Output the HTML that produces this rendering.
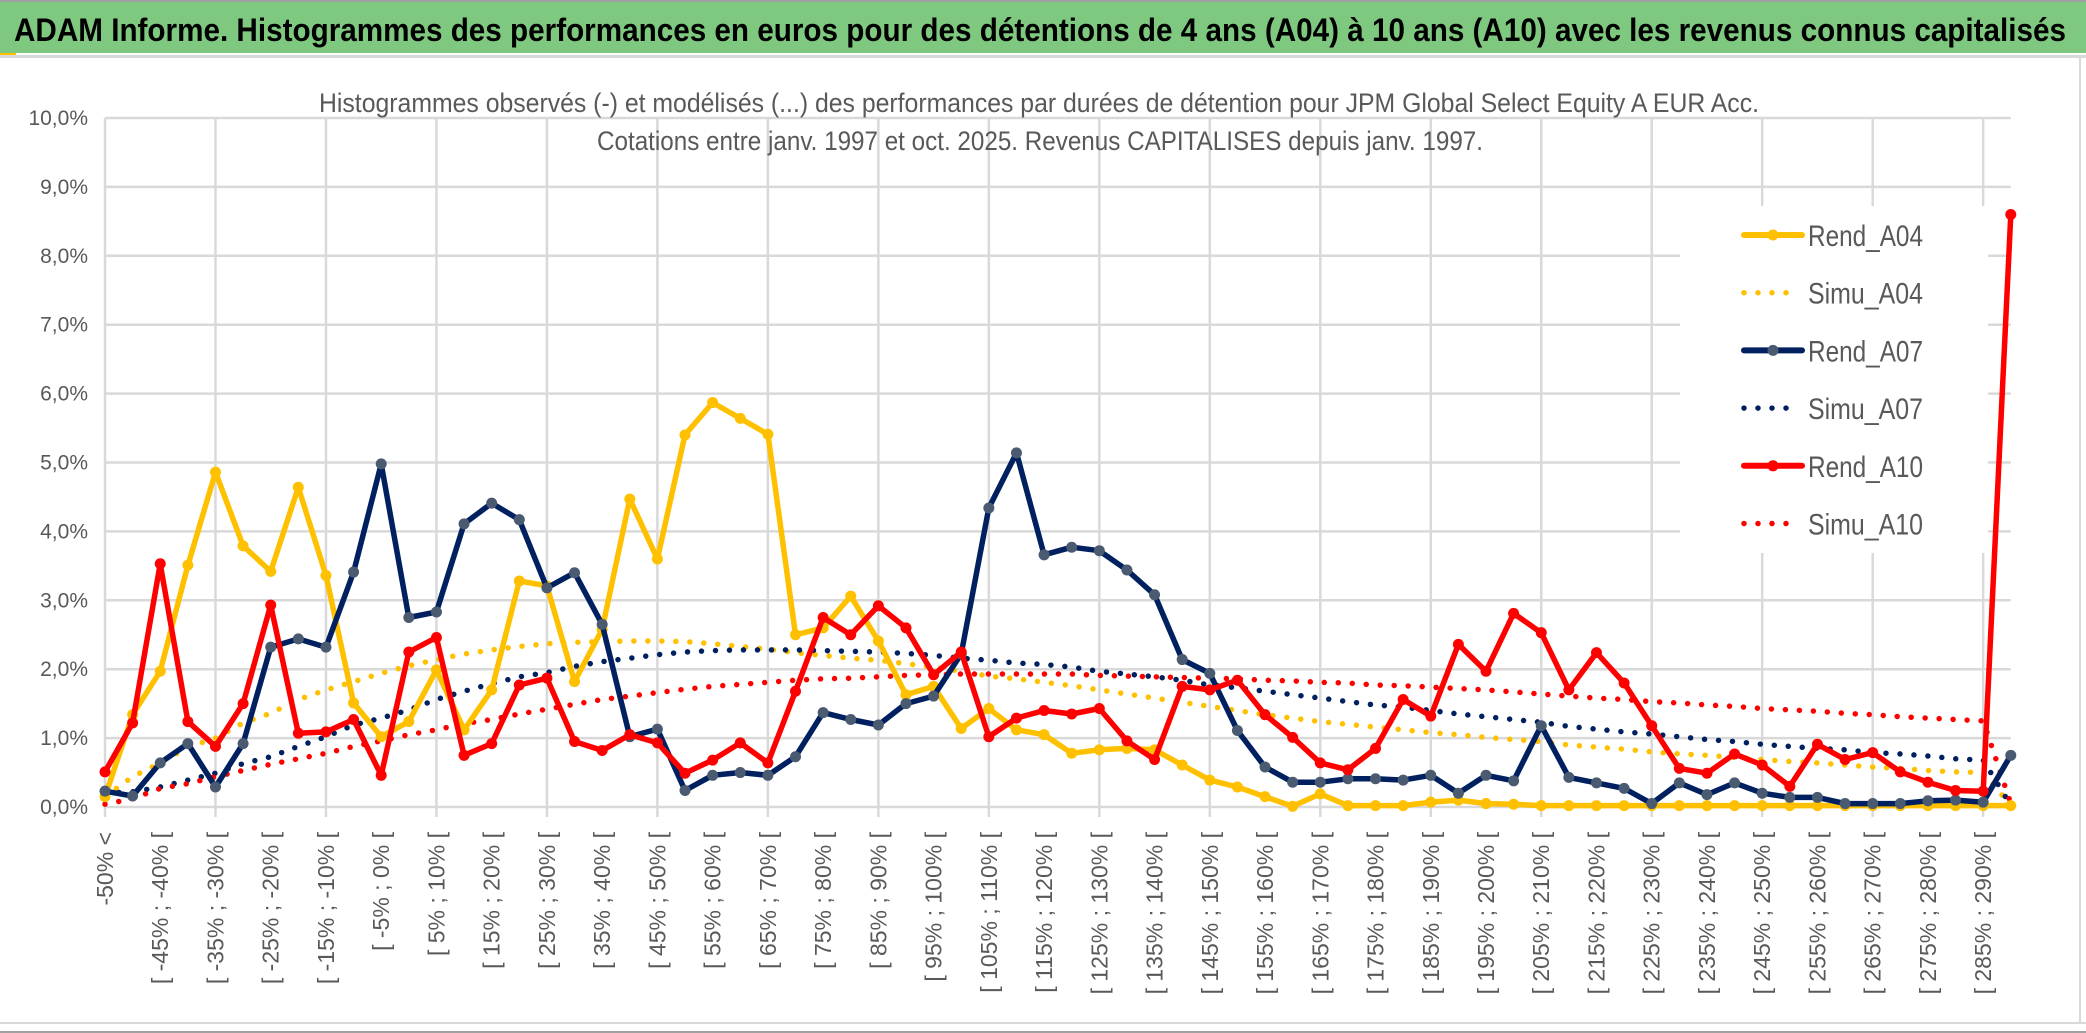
<!DOCTYPE html>
<html><head><meta charset="utf-8">
<style>
html,body{margin:0;padding:0;background:#fff;}
svg{display:block;}
</style></head>
<body>
<svg id="chart" width="2086" height="1033" xmlns="http://www.w3.org/2000/svg" font-family="'Liberation Sans', sans-serif">
  <rect x="0" y="0" width="2086" height="1033" fill="#ffffff"/>
  <rect x="0" y="0" width="2086" height="2" fill="#a0a0a0"/>
  <rect x="0" y="2" width="2086" height="51" fill="#7ec97f"/>
  <rect x="0" y="53" width="16" height="3" fill="#ffc000"/>
  <rect x="0" y="55" width="2086" height="3" fill="#d9d9d9"/>
  <rect x="2079" y="56" width="2" height="968" fill="#d9d9d9"/>
  <rect x="0" y="1022" width="2086" height="2" fill="#d9d9d9"/>
  <rect x="0" y="1031" width="2086" height="2" fill="#a0a0a0"/>
  <text x="14" y="41" font-size="32" font-weight="bold" fill="#000" textLength="2052" lengthAdjust="spacingAndGlyphs">ADAM Informe. Histogrammes des performances en euros pour des détentions de 4 ans (A04) à 10 ans (A10) avec les revenus connus capitalisés</text>
  <g id="grid"></g>
  <g id="yaxis"></g>
  <g id="xaxis"></g>
  <rect x="1680" y="206" width="308" height="347" fill="#ffffff"/>
  <g id="series"></g>
  <text x="1039" y="112" font-size="27" fill="#595959" text-anchor="middle" textLength="1440" lengthAdjust="spacingAndGlyphs">Histogrammes observés (-) et modélisés (...) des performances par durées de détention pour JPM Global Select Equity A EUR Acc.</text>
  <text x="1040" y="150" font-size="27" fill="#595959" text-anchor="middle" textLength="886" lengthAdjust="spacingAndGlyphs">Cotations entre janv. 1997 et oct. 2025. Revenus CAPITALISES depuis janv. 1997.</text>
  <g id="legend"></g>
</svg>
<script>
const categories = (function(){ const c=["-50% <"]; for(let k=1;k<70;k++){ if(k===69){c.push("290% >");} else {const a=-55+5*k; c.push("[ "+a+"% ; "+(a+5)+"% [");} } return c; })();
const yTicks = [0,1,2,3,4,5,6,7,8,9,10];
const yTickLabels = ["0,0%","1,0%","2,0%","3,0%","4,0%","5,0%","6,0%","7,0%","8,0%","9,0%","10,0%"];
const rendA04 = [0.15,1.34,1.97,3.51,4.86,3.79,3.42,4.64,3.36,1.51,1.02,1.24,1.99,1.12,1.70,3.28,3.21,1.82,2.58,4.47,3.60,5.40,5.87,5.64,5.41,2.50,2.60,3.06,2.41,1.63,1.75,1.14,1.43,1.12,1.05,0.78,0.83,0.85,0.83,0.61,0.39,0.29,0.15,0.01,0.19,0.02,0.02,0.02,0.07,0.10,0.05,0.04,0.02,0.02,0.02,0.02,0.02,0.02,0.02,0.02,0.02,0.02,0.02,0.02,0.02,0.02,0.02,0.02,0.02,0.02];
const rendA07 = [0.23,0.16,0.64,0.92,0.29,0.92,2.32,2.44,2.32,3.41,4.98,2.75,2.83,4.11,4.41,4.17,3.18,3.40,2.65,1.02,1.13,0.24,0.46,0.50,0.46,0.73,1.37,1.27,1.19,1.50,1.61,2.22,4.34,5.14,3.66,3.77,3.72,3.44,3.08,2.14,1.94,1.11,0.58,0.36,0.36,0.41,0.41,0.39,0.46,0.20,0.46,0.38,1.18,0.43,0.35,0.27,0.05,0.35,0.18,0.35,0.20,0.14,0.14,0.05,0.05,0.05,0.09,0.10,0.07,0.75];
const rendA10 = [0.51,1.22,3.53,1.24,0.88,1.50,2.93,1.07,1.09,1.27,0.46,2.25,2.46,0.75,0.92,1.77,1.87,0.95,0.82,1.05,0.93,0.49,0.68,0.93,0.64,1.68,2.75,2.50,2.92,2.60,1.92,2.25,1.02,1.29,1.40,1.35,1.43,0.96,0.69,1.75,1.70,1.84,1.34,1.01,0.64,0.54,0.85,1.56,1.32,2.36,1.97,2.81,2.53,1.70,2.24,1.80,1.18,0.56,0.49,0.77,0.61,0.30,0.91,0.69,0.79,0.51,0.36,0.24,0.23,8.60];
const simuA04 = [0.15,0.44,0.64,0.87,1.00,1.22,1.36,1.56,1.70,1.82,1.94,2.05,2.14,2.22,2.28,2.33,2.37,2.39,2.40,2.41,2.41,2.40,2.37,2.33,2.29,2.24,2.20,2.16,2.13,2.08,2.03,1.97,1.90,1.86,1.81,1.76,1.70,1.64,1.58,1.52,1.46,1.40,1.34,1.29,1.24,1.20,1.16,1.12,1.08,1.05,1.01,0.98,0.95,0.90,0.87,0.84,0.80,0.77,0.75,0.72,0.69,0.66,0.64,0.61,0.58,0.56,0.53,0.51,0.50,0.02];
const simuA07 = [0.20,0.22,0.29,0.39,0.49,0.63,0.73,0.88,1.02,1.19,1.29,1.41,1.56,1.68,1.79,1.89,1.95,2.04,2.11,2.16,2.21,2.25,2.27,2.28,2.28,2.28,2.27,2.26,2.25,2.23,2.20,2.16,2.13,2.09,2.07,2.03,1.97,1.93,1.89,1.84,1.77,1.73,1.68,1.63,1.58,1.53,1.48,1.45,1.40,1.35,1.31,1.27,1.23,1.17,1.13,1.09,1.06,1.02,0.98,0.95,0.91,0.88,0.85,0.83,0.79,0.77,0.74,0.70,0.68,0.02];
const simuA10 = [0.04,0.12,0.27,0.34,0.44,0.53,0.62,0.70,0.78,0.88,0.96,1.05,1.12,1.21,1.27,1.35,1.42,1.49,1.56,1.61,1.66,1.71,1.75,1.78,1.81,1.84,1.86,1.87,1.89,1.91,1.92,1.93,1.93,1.93,1.93,1.93,1.91,1.90,1.89,1.88,1.87,1.86,1.84,1.83,1.81,1.80,1.77,1.76,1.74,1.72,1.70,1.67,1.64,1.61,1.58,1.56,1.53,1.51,1.48,1.46,1.43,1.41,1.39,1.36,1.34,1.31,1.29,1.27,1.25,0.05];
const legendLabels = ["Rend_A04","Simu_A04","Rend_A07","Simu_A07","Rend_A10","Simu_A10"];

const NS="http://www.w3.org/2000/svg";
const X0=105, DX=27.62, Y0=807, DY=68.9;
function xPos(i){ return X0 + i*DX; }
function yPos(v){ return Y0 - v*DY; }
function mk(tag, attrs, parent){ const e=document.createElementNS(NS,tag); for(const k in attrs){ e.setAttribute(k, attrs[k]); } parent.appendChild(e); return e; }

const grid=document.getElementById('grid');
const yaxis=document.getElementById('yaxis');
const xaxis=document.getElementById('xaxis');
const series=document.getElementById('series');
const legend=document.getElementById('legend');
const xEnd = xPos(categories.length-1);

yTicks.forEach(function(t, k){
  const ln = mk('line',{x1:X0,x2:xEnd,y1:yPos(t),y2:yPos(t),stroke:'#d9d9d9','stroke-width':2.5},grid);
  
  
  const tx = mk('text',{x:88,y:yPos(t)+7,'font-size':21,fill:'#595959','text-anchor':'end'},yaxis);
  tx.textContent = yTickLabels[k];
  
  
});
for(let i=0;i<categories.length;i+=4){
  const ln = mk('line',{x1:xPos(i),x2:xPos(i),y1:yPos(10),y2:Y0+10,stroke:'#d9d9d9','stroke-width':2.5},grid);
  
  
}
for(let i=0;i<categories.length;i+=2){
  const x = xPos(i)+8;
  const tx = mk('text',{x:x,y:832,'font-size':23,fill:'#595959','text-anchor':'end',transform:'rotate(-90 '+x+' 832)'},xaxis);
  tx.textContent = categories[i];
  
  
}

function pts(arr){ return arr.map(function(v,i){ return xPos(i).toFixed(1)+','+yPos(v).toFixed(1); }).join(' '); }

function simu(arr, color, name){
  const p = mk('polyline',{points:pts(arr),fill:'none',stroke:color,'stroke-width':5.5,'stroke-linecap':'round','stroke-dasharray':'0 14'},series);
  
  
}
function rend(arr, color, marker, name){
  const p = mk('polyline',{points:pts(arr),fill:'none',stroke:color,'stroke-width':5.5,'stroke-linejoin':'round'},series);
  
  
  arr.forEach(function(v,i){
    const c = mk('circle',{cx:xPos(i),cy:yPos(v),r:5.5,fill:marker},series);
    
    
  });
}
simu(simuA04,'#ffc000','simu-a04-line');
simu(simuA07,'#002060','simu-a07-line');
simu(simuA10,'#ff0000','simu-a10-line');
rend(rendA04,'#ffc000','#ffc000','rend-a04-line');
rend(rendA07,'#002060','#4a5a70','rend-a07-line');
rend(rendA10,'#ff0000','#ff0000','rend-a10-line');

const legendColors=['#ffc000','#ffc000','#002060','#002060','#ff0000','#ff0000'];
const legendMarkers=['#ffc000',null,'#4a5a70',null,'#ff0000',null];
legendLabels.forEach(function(lbl,k){
  const y = 235 + k*57.7;
  if(legendMarkers[k]){
    const l = mk('line',{x1:1744,x2:1802,y1:y,y2:y,stroke:legendColors[k],'stroke-width':6,'stroke-linecap':'round'},legend);
    
    
    const c = mk('circle',{cx:1773,cy:y,r:5.5,fill:legendMarkers[k]},legend);
    
    
  } else {
    const l = mk('line',{x1:1744,x2:1790,y1:y,y2:y,stroke:legendColors[k],'stroke-width':5.5,'stroke-linecap':'round','stroke-dasharray':'0 14'},legend);
    
    
  }
  const t = mk('text',{x:1808,y:y+11,'font-size':30,fill:'#595959',textLength:115,lengthAdjust:'spacingAndGlyphs'},legend);
  t.textContent = lbl;
  
  
});
</script>
</body></html>
